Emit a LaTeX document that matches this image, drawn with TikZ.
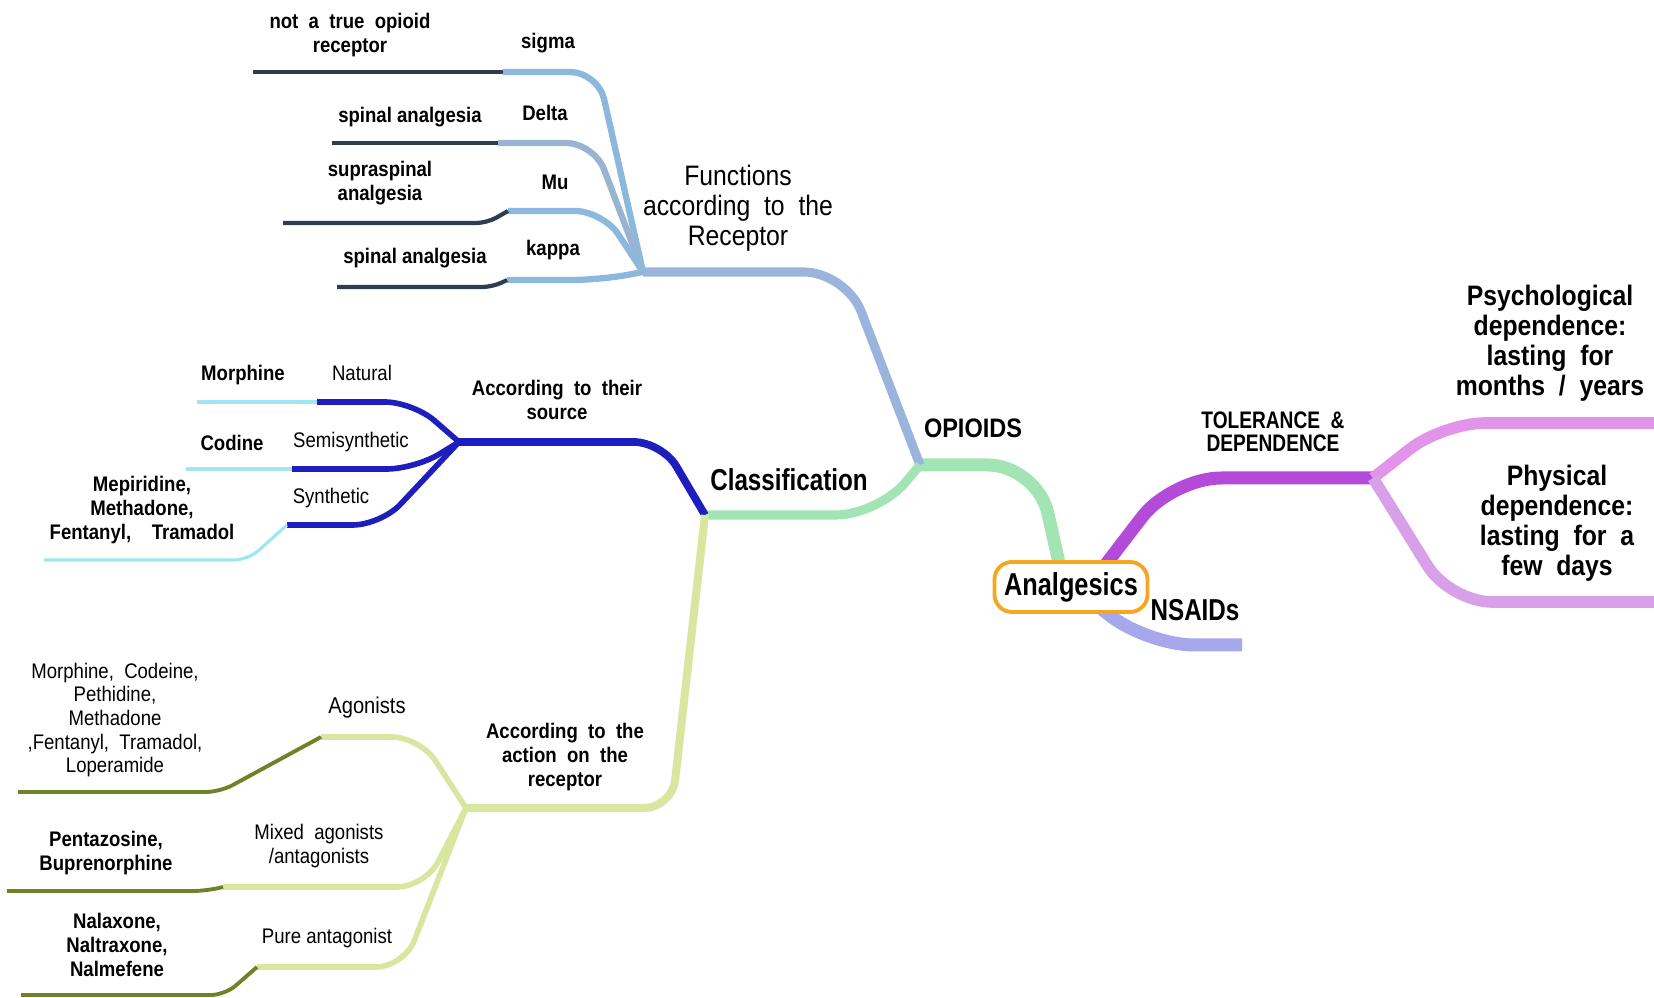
\documentclass[tikz,border=0pt]{standalone}
\usepackage{fontspec}
\setmainfont[FakeStretch=0.88]{Liberation Sans}
\newfontfamily\narrowfont[FakeStretch=0.8]{Liberation Sans}
\usetikzlibrary{positioning}

\definecolor{opigreen}{RGB}{163,228,181}
\definecolor{recblue}{RGB}{154,180,222}
\definecolor{subblue}{RGB}{141,184,221}
\definecolor{deltablue}{RGB}{152,180,208}
\definecolor{leafslate}{RGB}{44,62,80}
\definecolor{srcblue}{RGB}{30,30,190}
\definecolor{leafcyan}{RGB}{160,230,240}
\definecolor{actyellow}{RGB}{216,230,160}
\definecolor{leafolive}{RGB}{110,130,40}
\definecolor{tolpurple}{RGB}{180,75,216}
\definecolor{psypink}{RGB}{226,147,234}
\definecolor{physpink}{RGB}{216,160,232}
\definecolor{nsaidlav}{RGB}{167,167,238}
\definecolor{rootorange}{RGB}{245,166,35}

\newcommand{\smallfnt}{\fontsize{6}{6.7}\selectfont}
\newcommand{\midfnt}{\fontsize{8}{8.5}\selectfont}

\tikzset{
    trunk/.style={line width=3.7pt, rounded corners=14pt},
    limb/.style={line width=2.6pt, rounded corners=12pt},
    twig/.style={line width=1.8pt, rounded corners=8pt},
    leaf/.style={line width=1.2pt, rounded corners=3pt},
    hair/.style={line width=0.9pt, rounded corners=4pt},
    tag/.style={inner sep=0pt, align=center, font=\smallfnt\bfseries},
    thintag/.style={inner sep=0pt, align=center, font=\smallfnt},
    rootbox/.style={draw=rootorange, line width=1.1pt, fill=white, rounded corners=5pt,
        minimum width=1.53cm, minimum height=0.5cm, inner sep=0pt,
        font=\narrowfont\fontsize{9}{10}\selectfont\bfseries}
}

\begin{document}
\begin{tikzpicture}[x=0.01cm, y=-0.01cm]
    \useasboundingbox (0,0) rectangle (1654,998);

    % junctions
    \coordinate (opi) at (920,465);
    \coordinate (rec) at (643,272);
    \coordinate (cls) at (705,515);
    \coordinate (src) at (459,442);
    \coordinate (act) at (466,808);
    \coordinate (tol) at (1373,478);

    % bends and ends
    \coordinate (sigEnd) at (503,72);   \coordinate (sigLeaf) at (253,72);
    \coordinate (delEnd) at (498,143);  \coordinate (delLeaf) at (332,143);
    \coordinate (muEnd) at (508,211);   \coordinate (muLeaf) at (283,223);
    \coordinate (kapEnd) at (507,280);  \coordinate (kapLeaf) at (337,287);
    \coordinate (natEnd) at (317,402);  \coordinate (natLeaf) at (197,402);
    \coordinate (semEnd) at (292,469);  \coordinate (semLeaf) at (186,469);
    \coordinate (synEnd) at (287,525);  \coordinate (synLeaf) at (44,560);
    \coordinate (agoEnd) at (321,737);  \coordinate (agoLeaf) at (18,792);
    \coordinate (mixEnd) at (223,887);  \coordinate (mixLeaf) at (7,891);
    \coordinate (purEnd) at (257,967);  \coordinate (purLeaf) at (21,995);
    \coordinate (psyEnd) at (1654,423);
    \coordinate (phyEnd) at (1654,602);
    \coordinate (nsaEnd) at (1242,645);

    % main branches
    \draw[trunk, opigreen] (1064,585) -- (1037,465) -- (opi);
    \draw[trunk, tolpurple] (1090,585) -- (1172,478) -- (tol);
    \draw[trunk, nsaidlav] (1085,595) -- (1145,645) -- (nsaEnd);
    \draw[limb, recblue] (opi) -- (846,272) -- (rec);
    \draw[limb, opigreen] (opi) -- (878,515) -- (cls);
    \draw[limb, psypink, line width=3.3pt] (tol) -- (1443,423) -- (psyEnd);
    \draw[limb, physpink, line width=3.3pt] (tol) -- (1450,602) -- (phyEnd);
    \draw[twig, srcblue, line width=2.2pt] (cls) -- (662,442) -- (src);
    \draw[twig, actyellow, line width=2.3pt] (cls) -- (672,808) -- (act);

    % receptors
    \draw[twig, subblue] (rec) -- (598,72) -- (sigEnd);
    \draw[twig, deltablue] (rec) -- (594,143) -- (delEnd);
    \draw[twig, subblue] (rec) -- (603,211) -- (muEnd);
    \draw[twig, subblue] (rec) -- (600,280) -- (kapEnd);
    \draw[leaf, leafslate] (sigEnd) -- (sigLeaf);
    \draw[leaf, leafslate] (delEnd) -- (delLeaf);
    \draw[leaf, leafslate] (muEnd) -- (487,223) -- (muLeaf);
    \draw[leaf, leafslate] (kapEnd) -- (493,287) -- (kapLeaf);

    % source
    \draw[twig, srcblue, line width=1.6pt] (src) -- (413,402) -- (natEnd);
    \draw[twig, srcblue, line width=1.6pt] (src) -- (415,469) -- (semEnd);
    \draw[twig, srcblue, line width=1.6pt] (src) -- (381,525) -- (synEnd);
    \draw[hair, leafcyan] (natEnd) -- (natLeaf);
    \draw[hair, leafcyan] (semEnd) -- (semLeaf);
    \draw[hair, leafcyan] (synEnd) -- (248,560) -- (synLeaf);

    % action
    \draw[twig, actyellow, line width=1.6pt] (act) -- (420,737) -- (agoEnd);
    \draw[twig, actyellow, line width=1.6pt] (act) -- (425,887) -- (mixEnd);
    \draw[twig, actyellow, line width=1.6pt] (act) -- (404,967) -- (purEnd);
    \draw[hair, leafolive, line width=1.1pt] (agoEnd) -- (220,792) -- (agoLeaf);
    \draw[hair, leafolive, line width=1.1pt] (mixEnd) -- (207,891) -- (mixLeaf);
    \draw[hair, leafolive, line width=1.1pt] (purEnd) -- (225,995) -- (purLeaf);

    % labels
    \node[tag] (notopi) at (350,35) {not\ \ a\ \ true\ \ opioid\\receptor};
    \node[tag] (sigma) at (548,43) {sigma};
    \node[tag] (spinD) at (410,117) {spinal analgesia};
    \node[tag] (delta) at (545,113) {Delta};
    \node[tag] (supra) at (380,183) {supraspinal\\analgesia};
    \node[tag] (mu) at (555,182) {Mu};
    \node[tag] (spinK) at (415,258) {spinal analgesia};
    \node[tag] (kappa) at (553,250) {kappa};
    \node[thintag, font=\midfnt] (funcs) at (738,208) {Functions\\according\ \ to\ \ the\\Receptor};
    \node[tag, font=\fontsize{7.6}{8}\selectfont\bfseries] (opioids) at (973,428) {OPIOIDS};
    \node[tag, font=\narrowfont\fontsize{8.6}{9}\selectfont\bfseries] (classif) at (789,480) {Classification};

    \node[tag] (srclbl) at (557,400) {According\ \ to\ \ their\\source};
    \node[tag] (morph) at (243,375) {Morphine};
    \node[thintag] (natural) at (362,373) {Natural};
    \node[tag] (codine) at (232,443) {Codine};
    \node[thintag] (semisyn) at (351,442) {Semisynthetic};
    \node[tag] (mepir) at (142,510) {Mepiridine,\\Methadone,\\Fentanyl,\ \ \ \ Tramadol};
    \node[thintag] (synth) at (331,498) {Synthetic};

    \node[tag] (actlbl) at (565,757) {According\ \ to\ \ the\\action\ \ on\ \ the\\receptor};
    \node[thintag] (agolist) at (115,720) {Morphine,\ \ Codeine,\\Pethidine,\\Methadone\\,Fentanyl,\ \ Tramadol,\\Loperamide};
    \node[thintag, font=\fontsize{6.5}{7}\selectfont] (agon) at (367,708) {Agonists};
    \node[tag] (pentaz) at (106,853) {Pentazosine,\\Buprenorphine};
    \node[thintag] (mixed) at (319,846) {Mixed\ \ agonists\\/antagonists};
    \node[tag] (nalax) at (117,945) {Nalaxone,\\Naltraxone,\\Nalmefene};
    \node[thintag] (pure) at (327,938) {Pure antagonist};

    \node[tag, font=\narrowfont\fontsize{6.8}{6.4}\selectfont\bfseries] (tollbl) at (1273,432) {TOLERANCE\ \ \&\\DEPENDENCE};
    \node[tag, font=\midfnt\bfseries] (psych) at (1550,343) {Psychological\\dependence:\\lasting\ \ for\\months\ \ /\ \ years};
    \node[tag, font=\midfnt\bfseries] (phys) at (1557,523) {Physical\\dependence:\\lasting\ \ for\ \ a\\few\ \ days};
    \node[tag, font=\narrowfont\fontsize{8.6}{9}\selectfont\bfseries] (nsaids) at (1195,610) {NSAIDs};

    \node[rootbox] (root) at (1071,587) {Analgesics};
\end{tikzpicture}
\end{document}
